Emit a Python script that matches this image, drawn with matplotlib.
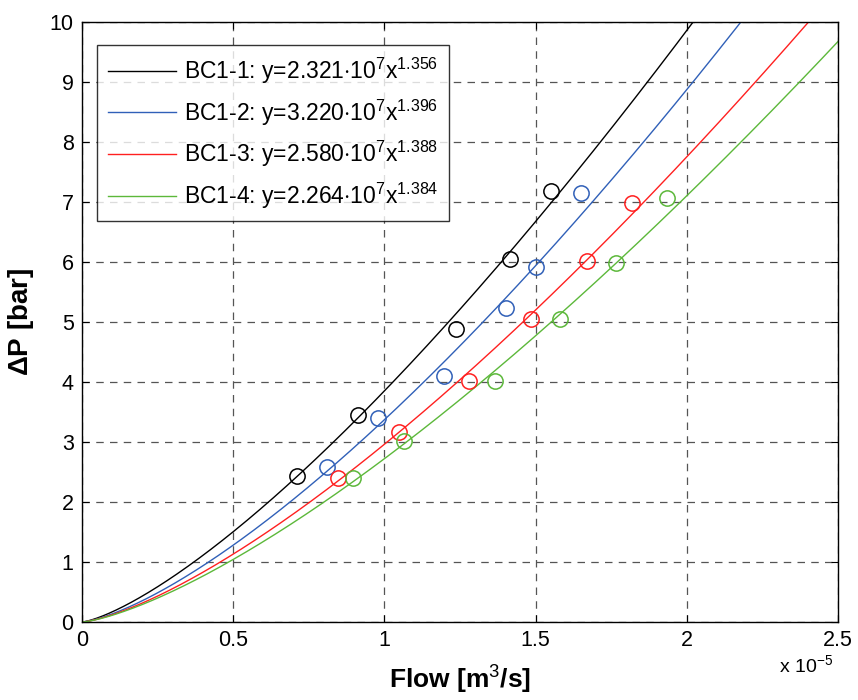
import numpy as np
import matplotlib
matplotlib.use('Agg')
import matplotlib.pyplot as plt
from matplotlib import font_manager

# nomes das amostras e coeficientes dos ajustes y = a*x^b
nomes = ['BC1-1', 'BC1-2', 'BC1-3', 'BC1-4']
coef_a = [2.321, 3.220, 2.580, 2.264]   # x 10^7
coef_b = [1.356, 1.396, 1.388, 1.384]
cores = ['#000000', '#3060b8', '#ff2020', '#5cb83a']

# pontos medidos (vazao em 1e-5 m3/s, dP em bar)
vazao_1 = [0.711, 0.913, 1.237, 1.415, 1.551]
dp_1 = [2.43, 3.45, 4.88, 6.05, 7.18]
vazao_2 = [0.810, 0.979, 1.197, 1.402, 1.501, 1.650]
dp_2 = [2.58, 3.40, 4.10, 5.23, 5.92, 7.15]
vazao_3 = [0.847, 1.048, 1.280, 1.485, 1.670, 1.819]
dp_3 = [2.40, 3.17, 4.02, 5.05, 6.02, 6.98]
vazao_4 = [0.896, 1.065, 1.366, 1.581, 1.766, 1.934]
dp_4 = [2.40, 3.02, 4.02, 5.05, 5.98, 7.07]

vazoes = [vazao_1, vazao_2, vazao_3, vazao_4]
dps = [dp_1, dp_2, dp_3, dp_4]

fonte = 'Liberation Sans Narrow'
nomes_inst = {f.name for f in font_manager.fontManager.ttflist}
if fonte not in nomes_inst:
    fonte = 'Liberation Sans'
plt.rcParams['font.family'] = [fonte, 'DejaVu Sans']
plt.rcParams['mathtext.fontset'] = 'custom'
plt.rcParams['mathtext.rm'] = fonte
plt.rcParams['mathtext.it'] = fonte
plt.rcParams['mathtext.bf'] = fonte + ':bold'

fig = plt.figure(figsize=(8.58, 7.0), dpi=100)
ax = fig.add_axes([0.0956, 0.1114, 0.8811, 0.8572])

xs = np.linspace(0, 2.5, 400)
for i in range(4):
    ys = coef_a[i] * 1e7 * (xs * 1e-5) ** coef_b[i]
    rotulo = '%s: y=%.3f$\\cdot$10$^{7}$x$^{%.3f}$' % (nomes[i], coef_a[i], coef_b[i])
    ax.plot(xs, ys, color=cores[i], lw=1.0, label=rotulo)
for i in range(4):
    ax.plot(vazoes[i], dps[i], 'o', mfc='none', mec=cores[i], ms=11, mew=1.1)

ax.set_xlim(0, 2.5)
ax.set_ylim(0, 10)
ax.set_xticks([0, 0.5, 1, 1.5, 2, 2.5])
ax.set_xticklabels(['0', '0.5', '1', '1.5', '2', '2.5'])
ax.set_yticks(range(0, 11))
ax.tick_params(direction='in', labelsize=15.5, length=5, top=True, right=True, pad=6)
ax.grid(True, ls=(0, (6, 5)), color='#555555', lw=0.9)
for s in ax.spines.values():
    s.set_linewidth(1.0)

ax.set_xlabel('Flow [m$^3$/s]', fontsize=19, fontweight='bold', labelpad=9)
ax.set_ylabel('$\\mathbf{\\Delta}$P [bar]', fontsize=20, fontweight='bold', labelpad=10)
fig.text(0.908, 0.040, 'x 10$^{-5}$', fontsize=14)

leg = ax.legend(loc='upper left', fontsize=16.5, frameon=True, fancybox=False,
                edgecolor='black', handlelength=3.0, handletextpad=0.35,
                borderpad=0.45, labelspacing=0.5, bbox_to_anchor=(0.005, 0.98))
leg.get_frame().set_linewidth(1.0)

fig.savefig('out.png', dpi=100)
